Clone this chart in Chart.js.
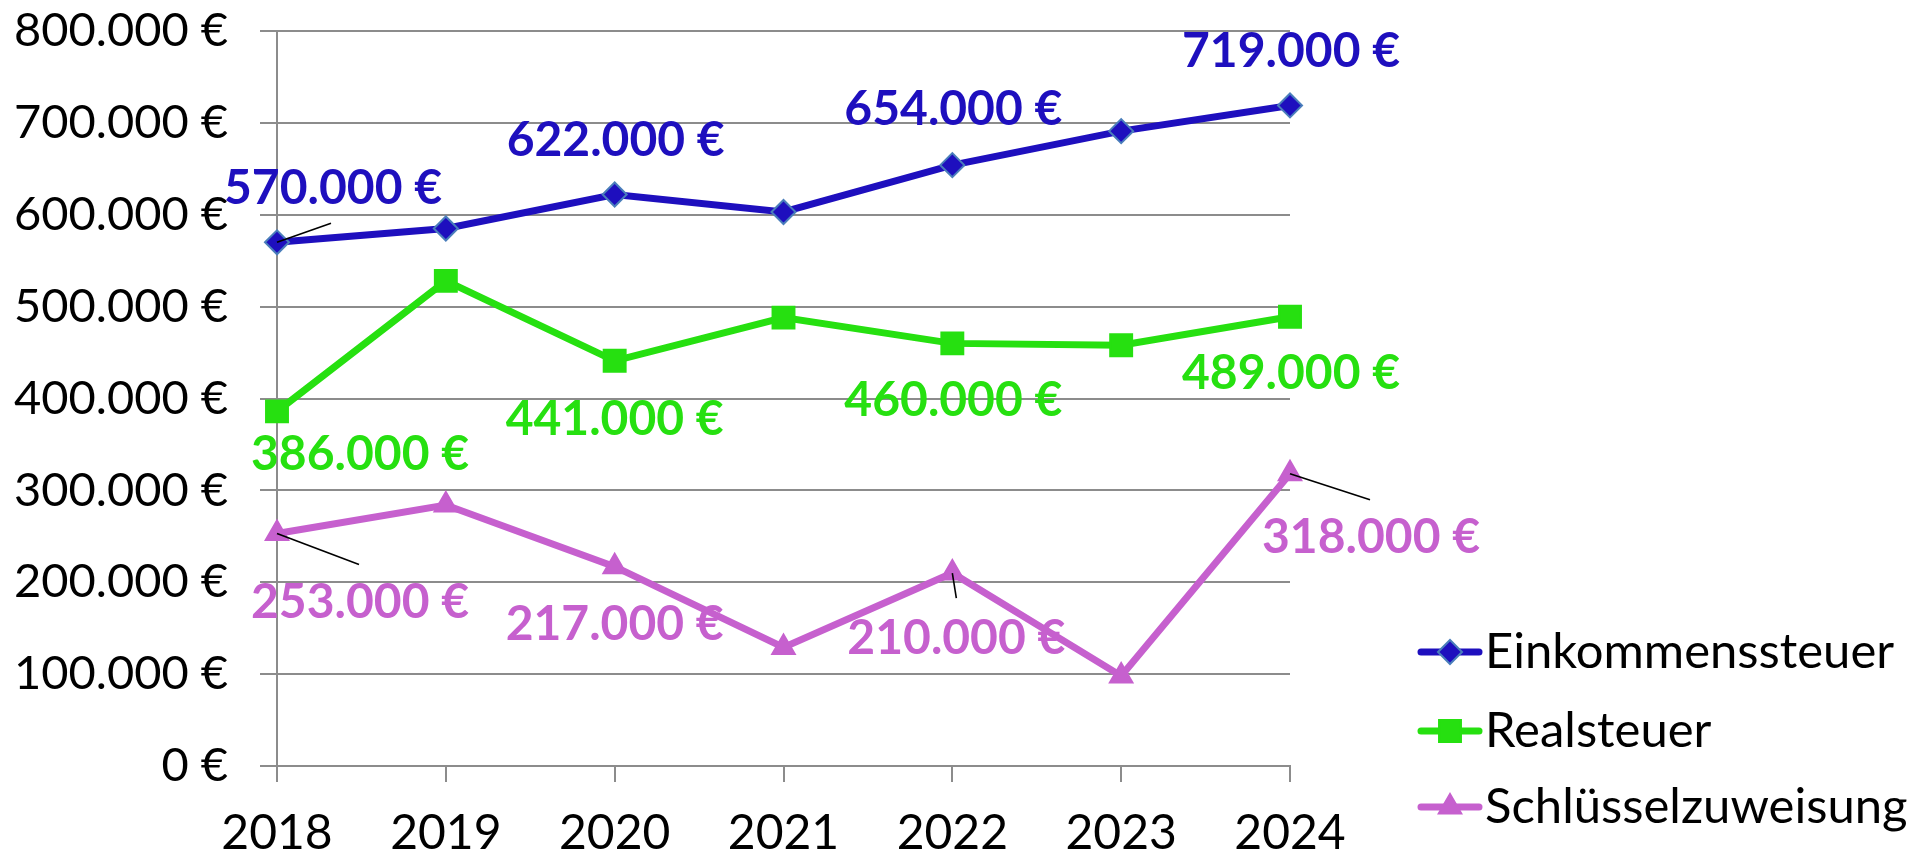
<!DOCTYPE html>
<html>
<head>
<meta charset="utf-8">
<script src="https://cdn.jsdelivr.net/npm/chart.js@4/dist/chart.umd.min.js"></script>
<style>
  html, body { margin: 0; padding: 0; background: #fff; }
  #wrap { width: 1928px; height: 853px; }
</style>
</head>
<body>
<div id="wrap"><canvas id="c" width="1928" height="853"></canvas></div>
<script>
  // Data
  const years = ['2018','2019','2020','2021','2022','2023','2024'];
  const einkommen = [570000, 585000, 622000, 603000, 654000, 691000, 719000];
  const real = [386000, 528000, 441000, 488000, 460000, 458000, 489000];
  const schluessel = [253000, 284000, 217000, 129000, 210000, 98000, 318000];
  const seriesNames = ['Einkommenssteuer', 'Realsteuer', 'Schlüsselzuweisung'];
  const yTicks = [0, 100000, 200000, 300000, 400000, 500000, 600000, 700000, 800000];

  const FONT = 'Lato, "Open Sans", sans-serif';
  const colors = ['#1E0FBE', '#26E010', '#C660CE'];
  const markerStyles = ['rectRot', 'rect', 'triangle'];
  const markerRadius = [12, 15.5, 13];

  const euro = v => Number(v).toLocaleString('de-DE') + ' €';

  // label placement per series: [index, dx, dy, leader end dx, leader end dy]
  const labelSpots = [
    [[0, 56, -54, 54, -19], [2, 1, -54], [4, 1, -56], [6, 1, -54]],
    [[0, 83, 43], [2, 0, 59], [4, 1, 57], [6, 1, 57]],
    [[0, 83, 69, 82, 31], [2, 0, 58], [4, 4, 65, 4, 25], [6, 81, 64, 80, 26]]
  ];

  const dataLabels = {
    id: 'dataLabels',
    afterDatasetsDraw(chart){
      const ctx = chart.ctx;
      ctx.save();
      labelSpots.forEach((spots, si)=>{
        const meta = chart.getDatasetMeta(si);
        const vals = chart.data.datasets[si].data;
        spots.forEach(s=>{
          const pt = meta.data[s[0]];
          if (s.length > 3) {
            ctx.strokeStyle = '#000'; ctx.lineWidth = 1.6;
            ctx.beginPath(); ctx.moveTo(pt.x, pt.y); ctx.lineTo(pt.x + s[3], pt.y + s[4]); ctx.stroke();
          }
          ctx.fillStyle = colors[si];
          ctx.font = 'bold 48px ' + FONT;
          ctx.textAlign = 'center'; ctx.textBaseline = 'middle';
          ctx.fillText(euro(vals[s[0]]), pt.x + s[1], pt.y + s[2]);
        });
      });
      ctx.restore();
    }
  };

  // Legend on the right: line + marker + name
  const sideLegend = {
    id: 'sideLegend',
    afterDraw(chart){
      const ctx = chart.ctx;
      const rows = [652, 731, 807];
      ctx.save();
      seriesNames.forEach((name, i)=>{
        const y = rows[i];
        ctx.strokeStyle = colors[i]; ctx.lineWidth = 7; ctx.lineCap = 'round';
        ctx.beginPath(); ctx.moveTo(1421, y); ctx.lineTo(1479, y); ctx.stroke();
        ctx.fillStyle = colors[i];
        ctx.strokeStyle = i === 0 ? '#4A7EBB' : colors[i];
        ctx.lineWidth = 2;
        Chart.helpers.drawPoint(ctx, { pointStyle: markerStyles[i], radius: markerRadius[i], rotation: 0, borderWidth: 2 }, 1450, y);
        ctx.fillStyle = '#000';
        ctx.font = '49px ' + FONT;
        ctx.textAlign = 'left'; ctx.textBaseline = 'middle';
        ctx.fillText(name, 1485, y);
      });
      ctx.restore();
    }
  };

  const mkSet = (label, data, i) => ({
    label, data,
    borderColor: colors[i],
    backgroundColor: colors[i],
    borderWidth: 7,
    pointStyle: markerStyles[i],
    pointRadius: markerRadius[i],
    pointBackgroundColor: colors[i],
    pointBorderColor: i === 0 ? '#4A7EBB' : colors[i],
    pointBorderWidth: 2,
    tension: 0,
    order: 3 - i
  });

  new Chart(document.getElementById('c').getContext('2d'), {
    type: 'line',
    data: {
      labels: years,
      datasets: [
        mkSet(seriesNames[0], einkommen, 0),
        mkSet(seriesNames[1], real, 1),
        mkSet(seriesNames[2], schluessel, 2)
      ]
    },
    options: {
      responsive: false,
      animation: false,
      layout: { padding: { top: 31, right: 638, bottom: 0, left: 0 } },
      plugins: { legend: { display: false }, tooltip: { enabled: false } },
      scales: {
        x: {
          offset: false,
          grid: { display: true, drawOnChartArea: false, drawTicks: true, tickLength: 16, color: '#8C8C8C', lineWidth: 2 },
          border: { display: true, color: '#8C8C8C', width: 2 },
          ticks: { color: '#000', font: { family: FONT, size: 48 }, padding: 23, maxRotation: 0 },
          afterFit: s => { s.height = 87; s.paddingLeft = 0; s.paddingRight = 0; }
        },
        y: {
          min: 0, max: 800000,
          afterBuildTicks: s => { s.ticks = yTicks.map(v => ({ value: v })); },
          grid: { color: '#8C8C8C', lineWidth: 2, tickLength: 17 },
          border: { display: true, color: '#8C8C8C', width: 2 },
          ticks: { color: '#000', font: { family: FONT, size: 47 }, padding: 32, callback: v => euro(v) },
          afterFit: s => { s.width = 277; s.paddingTop = 0; s.paddingBottom = 0; }
        }
      }
    },
    plugins: [dataLabels, sideLegend]
  });
</script>
</body>
</html>
